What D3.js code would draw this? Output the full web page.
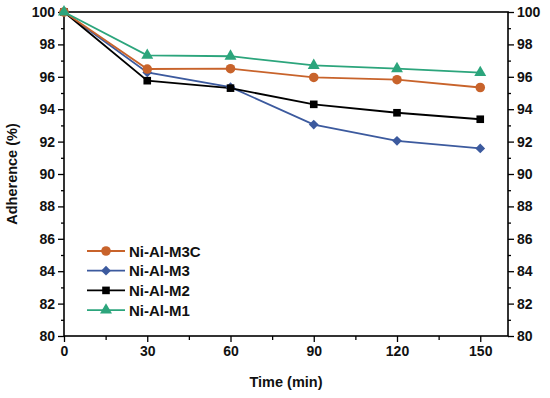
<!DOCTYPE html>
<html>
<head>
<meta charset="utf-8">
<script src="https://cdn.jsdelivr.net/npm/d3@7"></script>
<style>
  body { margin: 0; background: #fff; }
  svg text { font-family: "Liberation Sans", Arial, sans-serif; font-weight: bold; fill: #111; }
</style>
</head>
<body>
<svg id="chart" width="550" height="398"></svg>
<script>
// values
const times = [0, 30, 60, 90, 120, 150];
const m3c = [100, 96.48, 96.5, 95.96, 95.82, 95.34];
const m3  = [100, 96.27, 95.36, 93.05, 92.05, 91.58];
const m2  = [100, 95.76, 95.3, 94.3, 93.78, 93.38];
const m1  = [100, 97.32, 97.27, 96.7, 96.5, 96.26];
const seriesNames = ['Ni-Al-M3C', 'Ni-Al-M3', 'Ni-Al-M2', 'Ni-Al-M1'];
const xTicks = [0, 30, 60, 90, 120, 150];
const yTicks = [80, 82, 84, 86, 88, 90, 92, 94, 96, 98, 100];

// diamond drawn as a square turned 45 degrees
const series = [
  { name: seriesNames[0], values: m3c, color: '#c8632b', shape: d3.symbolCircle, size: 72, rot: 0 },
  { name: seriesNames[1], values: m3,  color: '#3c5a9e', shape: d3.symbolSquare, size: 48, rot: 45 },
  { name: seriesNames[2], values: m2,  color: '#000000', shape: d3.symbolSquare, size: 58, rot: 0 },
  { name: seriesNames[3], values: m1,  color: '#2ca57c', shape: d3.symbolTriangle, size: 62, rot: 0 }
];

const svg = d3.select('#chart');
const plotL = 64, plotR = 508, plotT = 12, plotB = 336;

const x = d3.scaleLinear().domain([0, 160]).range([plotL, plotR]);
const y = d3.scaleLinear().domain([80, 100]).range([plotB, plotT]);

// frame
svg.append('rect')
  .attr('x', plotL).attr('y', plotT)
  .attr('width', plotR - plotL).attr('height', plotB - plotT)
  .attr('fill', 'none').attr('stroke', '#000').attr('stroke-width', 1.6);

// minor ticks
const yMinor = d3.range(81, 100, 2);
const xMinor = [15, 45, 75, 105, 135];
function styleAxis(g) {
  g.select('.domain').remove();
  g.selectAll('.tick line').attr('stroke', '#000').attr('stroke-width', 1.3);
  g.selectAll('.tick text').attr('font-size', '14px').attr('fill', '#111');
}

svg.append('g').attr('transform', `translate(${plotL},0)`)
  .call(d3.axisLeft(y).tickValues(yMinor).tickSize(3).tickFormat(''))
  .call(styleAxis);
svg.append('g').attr('transform', `translate(${plotR},0)`)
  .call(d3.axisRight(y).tickValues(yMinor).tickSize(3).tickFormat(''))
  .call(styleAxis);
svg.append('g').attr('transform', `translate(0,${plotB})`)
  .call(d3.axisBottom(x).tickValues(xMinor).tickSize(4).tickFormat(''))
  .call(styleAxis);

// major ticks
svg.append('g').attr('transform', `translate(${plotL},0)`)
  .call(d3.axisLeft(y).tickValues(yTicks).tickSize(6).tickPadding(3))
  .call(styleAxis);
svg.append('g').attr('transform', `translate(${plotR},0)`)
  .call(d3.axisRight(y).tickValues(yTicks).tickSize(6).tickPadding(3))
  .call(styleAxis);
svg.append('g').attr('transform', `translate(0,${plotB})`)
  .call(d3.axisBottom(x).tickValues(xTicks).tickSize(6).tickPadding(4))
  .call(styleAxis);

// axis titles
svg.append('text')
  .attr('transform', `translate(17,${(plotT + plotB) / 2}) rotate(-90)`)
  .attr('text-anchor', 'middle')
  .attr('font-size', '14.5px')
  .text('Adherence (%)');
svg.append('text')
  .attr('x', (plotL + plotR) / 2).attr('y', 387)
  .attr('text-anchor', 'middle')
  .attr('font-size', '14.5px')
  .text('Time (min)');

// lines and markers
const line = d3.line().x((d, i) => x(times[i])).y(d => y(d));
const plotOrder = [series[1], series[2], series[0], series[3]];
plotOrder.forEach(s => {
  svg.append('path')
    .datum(s.values)
    .attr('d', line)
    .attr('fill', 'none')
    .attr('stroke', s.color)
    .attr('stroke-width', 1.8);
});
plotOrder.forEach(s => {
  svg.append('g').selectAll('path')
    .data(s.values)
    .join('path')
    .attr('transform', (d, i) => `translate(${x(times[i])},${y(d)}) rotate(${s.rot})`)
    .attr('d', d3.symbol().type(s.shape).size(s.size))
    .attr('fill', s.color);
});

// legend
const legend = svg.append('g').attr('transform', 'translate(87,251)');
series.forEach((s, i) => {
  const g = legend.append('g').attr('transform', `translate(0,${i * 19.7})`);
  g.append('line').attr('x1', 0).attr('x2', 38).attr('y1', 0).attr('y2', 0)
    .attr('stroke', s.color).attr('stroke-width', 1.8);
  g.append('path').attr('transform', `translate(19,0) rotate(${s.rot})`)
    .attr('d', d3.symbol().type(s.shape).size(s.size))
    .attr('fill', s.color);
  g.append('text').attr('x', 42).attr('y', 5.5)
    .attr('font-size', '15px')
    .text(s.name);
});
</script>
</body>
</html>
